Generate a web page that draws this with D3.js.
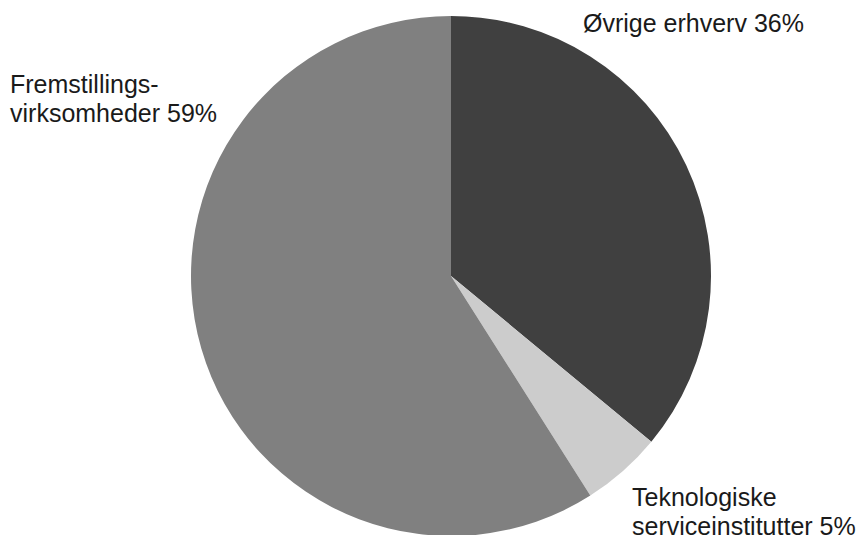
<!DOCTYPE html>
<html><head><meta charset="utf-8">
<script src="https://cdn.jsdelivr.net/npm/d3@7"></script>
<style>html,body{margin:0;padding:0;background:#fff;overflow:hidden}</style>
</head><body>
<svg id="chart" width="863" height="535"></svg>
<script>
const categories = ["Øvrige erhverv", "Teknologiske serviceinstitutter", "Fremstillingsvirksomheder"];
const values = [36, 5, 59];
const colors = ["#404040", "#cccccc", "#808080"];
const labelLines = [["Øvrige erhverv 36%"], ["Teknologiske", "serviceinstitutter 5%"], ["Fremstillings-", "virksomheder 59%"]];
const labelPos = [[583, 32], [632, 506], [10, 93]];

const svg = d3.select("#chart");
const cx = 451, cy = 276, r = 260;
const pie = d3.pie().sort(null).value(d => d)(values);
const arc = d3.arc().innerRadius(0).outerRadius(r);
const g = svg.append("g").attr("transform", `translate(${cx},${cy})`);
g.selectAll("path").data(pie).enter().append("path")
  .attr("d", arc).attr("fill", (d, i) => colors[i]);

labelLines.forEach((lines, i) => {
  const t = svg.append("text").attr("x", labelPos[i][0]).attr("y", labelPos[i][1])
    .attr("font-family", "Liberation Sans, Arial, sans-serif").attr("font-size", 25).attr("fill", "#1a1a1a");
  lines.forEach((l, j) => t.append("tspan").attr("x", labelPos[i][0]).attr("dy", j === 0 ? 0 : 29).text(l));
});
</script>
</body></html>
